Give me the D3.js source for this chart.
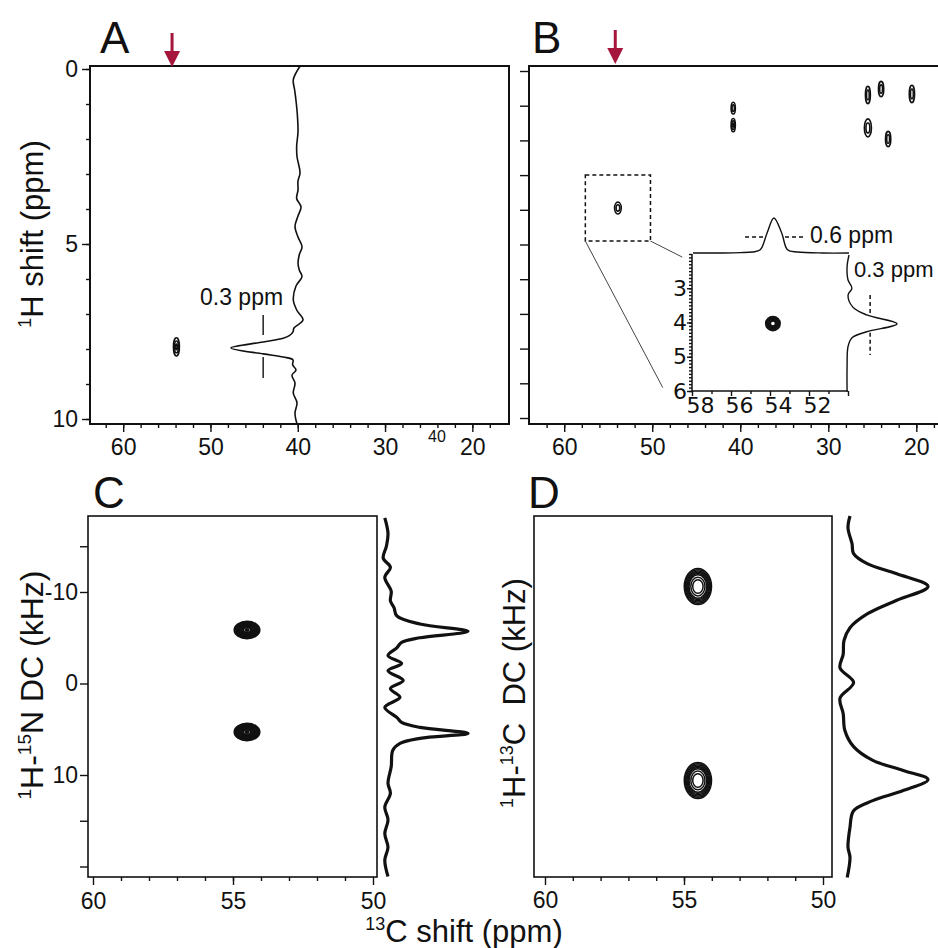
<!DOCTYPE html>
<html>
<head>
<meta charset="utf-8">
<script src="https://cdn.jsdelivr.net/npm/d3@7"></script>
<style>
  body { margin: 0; background: #fff; }
  svg { display: block; }
  text { font-family: "Liberation Sans", Arial, Helvetica, sans-serif; fill: #111; }
</style>
</head>
<body>
<div id="fig"></div>
<script>
// ---------- data ----------
// panels A/B : 13C shift (ppm) vs 1H shift (ppm)
var ticks13C_AB = [60, 50, 40, 30, 20];
var ticks1H_A = [0, 5, 10];
var arrowA = 54.4;
var arrowB = 54.2;
// peaks: c = 13C ppm, h = 1H ppm, rc/rh = half widths (ppm)
var peaksA = [{c: 53.9, h: 7.94, rc: 0.34, rh: 0.26}];
var peaksB = [
  {c: 40.8, h: 1.07, rc: 0.24, rh: 0.17},
  {c: 40.8, h: 1.56, rc: 0.24, rh: 0.19},
  {c: 25.5, h: 0.69, rc: 0.28, rh: 0.25},
  {c: 24.0, h: 0.52, rc: 0.3, rh: 0.22},
  {c: 20.5, h: 0.66, rc: 0.3, rh: 0.25},
  {c: 25.5, h: 1.64, rc: 0.4, rh: 0.26},
  {c: 23.2, h: 1.96, rc: 0.3, rh: 0.22},
  {c: 53.9, h: 3.95, rc: 0.38, rh: 0.17}
];
// 1H projection in A: [1H ppm, intensity]
var traceA = [[-0.08,-0.03],[0.3,0.07],[0.6,0.05],[0.9,0.03],[1.3,0.01],[1.8,0],[2.2,0.02],[2.5,0.015],
  [2.97,-0.03],[3.2,0],[3.46,0],[3.7,0.02],[3.94,-0.045],[4.2,0],[4.5,0.045],[4.8,0],[5.08,-0.06],
  [5.3,-0.02],[5.55,0],[5.75,-0.02],[5.93,-0.06],[6.2,0.03],[6.6,0.07],[6.9,0.015],[7.17,-0.075],
  [7.4,0.06],[7.51,0.075],[7.62,0.13],[7.69,0.22],[7.8,0.52],[7.97,1.0],[8.14,0.52],[8.23,0.22],
  [8.31,0.075],[8.45,0.08],[8.6,0.03],[8.75,0.09],[8.97,0.045],[9.26,0.07],[9.54,0.015],[9.83,0.045],[10.14,0.015]];
var widthA = {h1: 7.03, h2: 7.6, h3: 8.23, h4: 8.83, i: 0.52};

// inset of B (zoom on the Ca peak)
var insetBox = {c1: 57.6, c2: 50.2, h1: 3.0, h2: 4.9};
var ticks13C_inset = [58, 56, 54, 52, 50];
var labels13C_inset = [58, 56, 54, 52];
var ticks1H_inset = [3, 4, 5, 6];
var peaksInset = [{c: 53.85, h: 4.03, rc: 0.36, rh: 0.2}];
var traceInsetTop = [[57.95,0],[56.4,0],[55.5,0.01],[54.9,0.03],[54.5,0.09],[54.15,0.57],[53.8,1.0],
  [53.4,0.57],[53.1,0.09],[52.6,0.03],[51.3,0],[49.95,0]];
var traceInsetRight = [[2.03,0],[2.37,-0.04],[2.76,-0.02],[3.0,0.06],[3.2,-0.02],[3.55,0.08],[3.78,0.37],
  [4.04,1.0],[4.27,0.37],[4.45,0.06],[4.7,-0.02],[5.3,-0.04],[6.02,-0.04]];
var width06 = [[55.28, 54.26], [53.23, 52.2]];
var width06i = 0.46;
var width03 = [[3.2, 3.72], [4.3, 4.95]];
var width03i = 0.44;

// panels C/D : 13C shift (ppm) vs dipolar coupling (kHz)
var ticks13C_CD = [60, 55, 50];
var ticksDC_C = [-10, 0, 10];
var ticksDC_Cminor = [-15, 15, 20];
var peaksC = [{c: 54.5, h: -5.85, rc: 0.45, rh: 0.93}, {c: 54.5, h: 5.3, rc: 0.45, rh: 0.93}];
var peaksD = [{c: 54.5, h: -10.6, rc: 0.49, rh: 1.97}, {c: 54.5, h: 10.6, rc: 0.49, rh: 1.97}];
var traceC = [[-18.1,-0.04],[-16.4,0],[-15.0,-0.02],[-13.7,-0.06],[-12.7,0.03],[-11.6,-0.04],[-10.1,0.04],
  [-9.05,0.03],[-8.3,0.075],[-7.4,0.11],[-6.5,0.4],[-5.7,1.0],[-5.0,0.4],[-4.5,0.17],[-3.9,0.11],
  [-3.05,0],[-2.2,0.17],[-1.4,0],[-0.33,0.19],[0.55,0.03],[1.5,0.15],[2.6,-0.04],[3.7,0.11],[4.25,0.17],
  [4.8,0.4],[5.45,1.0],[6.0,0.4],[6.55,0.15],[7.3,0.06],[9.1,0.04],[10.9,0],[12.0,0.03],[13.5,-0.04],
  [14.9,0],[16.4,-0.04],[17.9,0],[19.3,-0.04],[21.1,0]];
var traceD = [[-18.3,0.025],[-17.0,0],[-15.3,0.05],[-14.2,0.07],[-13.1,0.24],[-12.0,0.61],[-10.6,1.0],
  [-9.1,0.61],[-7.6,0.24],[-6.1,0.025],[-4.7,-0.05],[-3.2,-0.06],[-1.7,-0.1],[-0.1,0.07],[1.6,-0.1],
  [3.3,-0.06],[5.1,-0.04],[6.9,0.07],[8.4,0.31],[9.5,0.69],[10.5,1.0],[11.7,0.69],[12.8,0.31],
  [13.9,0.07],[15.7,0.025],[17.9,0],[19.0,0.025],[21.2,-0.01]];

// contour levels (fraction of the peak half width)
var levelsSmall = [1, 0.55];
var levelsSmallFilled = [1, 0.65, 0.3];
var levelsC = [1, 0.9, 0.8, 0.7, 0.6, 0.5, 0.4, 0.3, 0.12];
var levelsD = [1, 0.93, 0.86, 0.79, 0.72, 0.65, 0.52, 0.38];
var levelsInset = [1, 0.8, 0.6, 0.4];

// ---------- layout ----------
var W = 938, H = 948;
var ink = "#111";
var red = "#a5163c";
var tickFont = 23, titleFont = 31;
var svg = d3.select("#fig").append("svg").attr("width", W).attr("height", H);

var xA = d3.scaleLinear().domain([63.8, 15.8]).range([90, 509]);
var yA = d3.scaleLinear().domain([0, 10]).range([69, 419]);
var iA = d3.scaleLinear().domain([0, 1]).range([298, 231]);

var xB = d3.scaleLinear().domain([64, 16.4]).range([529, 948]);
var yB = d3.scaleLinear().domain([0, 10]).range([71, 418]);

var xI = d3.scaleLinear().domain([58, 50]).range([692, 848]);
var yI = d3.scaleLinear().domain([2, 6]).range([254, 391]);
var iTop = d3.scaleLinear().domain([0, 1]).range([253, 218]);
var iRight = d3.scaleLinear().domain([0, 1]).range([849, 897]);

var xC = d3.scaleLinear().domain([60, 50]).range([93, 373]);
var yC = d3.scaleLinear().domain([-10, 10]).range([592, 775]);
var iC = d3.scaleLinear().domain([0, 1]).range([388, 468]);

var xD = d3.scaleLinear().domain([60, 50]).range([545, 823]);
var yD = d3.scaleLinear().domain([-10, 10]).range([592, 775]);
var iD = d3.scaleLinear().domain([0, 1]).range([848, 928]);

// ---------- helpers ----------
function styleAxis(g, size, family) {
  g.select(".domain").remove();
  g.selectAll(".tick line").attr("stroke", ink).attr("stroke-width", 1.4);
  g.selectAll(".tick text").attr("fill", ink)
    .attr("font-size", size || tickFont)
    .style("font-family", family || "'Liberation Sans', Arial, sans-serif");
  return g;
}
function fmt(d) { return String(d); }

function contours(g, peaks, xs, ys, levels, sw) {
  peaks.forEach(function(p) {
    var cx = xs(p.c), cy = ys(p.h);
    var rx = Math.abs(xs(p.c + p.rc) - cx), ry = Math.abs(ys(p.h + p.rh) - cy);
    g.selectAll(null).data(levels).enter().append("ellipse")
      .attr("cx", cx).attr("cy", cy)
      .attr("rx", function(l) { return rx * l; })
      .attr("ry", function(l) { return ry * l; })
      .attr("fill", "none").attr("stroke", ink).attr("stroke-width", sw);
  });
}
function traceV(g, data, ys, is, sw) {
  var line = d3.line().x(function(d) { return is(d[1]); }).y(function(d) { return ys(d[0]); })
    .curve(d3.curveCatmullRom.alpha(0.5));
  g.append("path").datum(data).attr("d", line)
    .attr("fill", "none").attr("stroke", ink).attr("stroke-width", sw).attr("stroke-linejoin", "round");
}
function traceH(g, data, xs, is, sw) {
  var line = d3.line().x(function(d) { return xs(d[0]); }).y(function(d) { return is(d[1]); })
    .curve(d3.curveCatmullRom.alpha(0.5));
  g.append("path").datum(data).attr("d", line)
    .attr("fill", "none").attr("stroke", ink).attr("stroke-width", sw).attr("stroke-linejoin", "round");
}
function arrow(x, y0, y1) {
  svg.append("line").attr("x1", x).attr("x2", x).attr("y1", y0).attr("y2", y1 - 10)
    .attr("stroke", red).attr("stroke-width", 3);
  svg.append("path").attr("d", "M" + (x - 8) + "," + (y1 - 16) + "L" + (x + 8) + "," + (y1 - 16) + "L" + x + "," + y1 + "Z")
    .attr("fill", red);
}
function panelLetter(t, x, y) {
  svg.append("text").attr("x", x).attr("y", y).attr("font-size", 44).text(t);
}

// ---------- panel A ----------
var gA = svg.append("g");
gA.append("rect").attr("x", 90).attr("y", 66).attr("width", 419).attr("height", 358)
  .attr("fill", "none").attr("stroke", ink).attr("stroke-width", 2);
styleAxis(gA.append("g").attr("transform", "translate(0,424)")
  .call(d3.axisBottom(xA).tickValues(d3.range(18, 63, 2)).tickSize(4).tickFormat("")));
styleAxis(gA.append("g").attr("transform", "translate(0,424)")
  .call(d3.axisBottom(xA).tickValues(ticks13C_AB).tickSize(8).tickPadding(7).tickFormat(fmt)));
styleAxis(gA.append("g").attr("transform", "translate(90,0)")
  .call(d3.axisLeft(yA).tickValues(d3.range(0, 11)).tickSize(4).tickFormat("")));
styleAxis(gA.append("g").attr("transform", "translate(90,0)")
  .call(d3.axisLeft(yA).tickValues(ticks1H_A).tickSize(8).tickPadding(4).tickFormat(fmt)));
contours(gA, peaksA, xA, yA, levelsSmallFilled, 1.6);
traceV(gA, traceA, yA, iA, 1.6);
gA.append("line").attr("x1", iA(widthA.i)).attr("x2", iA(widthA.i))
  .attr("y1", yA(widthA.h1)).attr("y2", yA(widthA.h2)).attr("stroke", ink).attr("stroke-width", 1.4);
gA.append("line").attr("x1", iA(widthA.i)).attr("x2", iA(widthA.i))
  .attr("y1", yA(widthA.h3)).attr("y2", yA(widthA.h4)).attr("stroke", ink).attr("stroke-width", 1.4);
gA.append("text").attr("x", 200).attr("y", 305).attr("font-size", 23).text("0.3 ppm");
gA.append("text").attr("x", 437).attr("y", 442).attr("font-size", 16).attr("text-anchor", "middle").text("40");
gA.append("text").attr("transform", "translate(43,234) rotate(-90)").attr("text-anchor", "middle")
  .attr("font-size", titleFont)
  .call(function(t) {
    t.append("tspan").attr("font-size", 18).attr("dy", -12).text("1");
    t.append("tspan").attr("dy", 12).text("H shift (ppm)");
  });
arrow(xA(arrowA), 33, 67);
panelLetter("A", 100, 53);

// ---------- panel B ----------
var gB = svg.append("g");
gB.append("rect").attr("x", 529).attr("y", 66).attr("width", 440).attr("height", 358)
  .attr("fill", "none").attr("stroke", ink).attr("stroke-width", 2);
styleAxis(gB.append("g").attr("transform", "translate(0,424)")
  .call(d3.axisBottom(xB).tickValues(d3.range(18, 63, 2)).tickSize(4).tickFormat("")));
styleAxis(gB.append("g").attr("transform", "translate(0,424)")
  .call(d3.axisBottom(xB).tickValues(ticks13C_AB).tickSize(8).tickPadding(7).tickFormat(fmt)));
styleAxis(gB.append("g").attr("transform", "translate(529,0)")
  .call(d3.axisLeft(yB).tickValues(d3.range(0, 11)).tickSize(9).tickFormat("")));
contours(gB, peaksB.filter(function(p, i) { return i !== 1; }), xB, yB, levelsSmall, 1.6);
contours(gB, [peaksB[1]], xB, yB, levelsSmallFilled, 1.6);

// dashed zoom box and connectors
gB.append("rect").attr("x", xB(insetBox.c1)).attr("y", yB(insetBox.h1))
  .attr("width", xB(insetBox.c2) - xB(insetBox.c1)).attr("height", yB(insetBox.h2) - yB(insetBox.h1))
  .attr("fill", "none").attr("stroke", ink).attr("stroke-width", 1.5).attr("stroke-dasharray", "4,3");
gB.append("line").attr("x1", xB(insetBox.c2)).attr("y1", yB(insetBox.h2))
  .attr("x2", xI(58.5)).attr("y2", yI(2.09)).attr("stroke", "#444").attr("stroke-width", 1);
gB.append("line").attr("x1", xB(insetBox.c1)).attr("y1", yB(insetBox.h2))
  .attr("x2", xI(59.5)).attr("y2", yI(5.9)).attr("stroke", "#444").attr("stroke-width", 1);

// inset
var gI = svg.append("g");
gI.append("rect").attr("x", 692).attr("y", 254).attr("width", 156).attr("height", 137).attr("fill", "#fff");
gI.append("line").attr("x1", 692).attr("x2", 692).attr("y1", 254).attr("y2", 391).attr("stroke", ink).attr("stroke-width", 1.5);
gI.append("line").attr("x1", 692).attr("x2", 848).attr("y1", 391).attr("y2", 391).attr("stroke", ink).attr("stroke-width", 1.5);
styleAxis(gI.append("g").attr("transform", "translate(692,0)")
  .call(d3.axisLeft(yI).tickValues(d3.range(20, 61).map(function(d) { return d / 10; })).tickSize(3).tickFormat("")));
styleAxis(gI.append("g").attr("transform", "translate(692,0)")
  .call(d3.axisLeft(yI).tickValues(ticks1H_inset).tickSize(5).tickPadding(0).tickFormat(fmt)), 22, "'DejaVu Sans', Verdana, sans-serif");
styleAxis(gI.append("g").attr("transform", "translate(0,391)")
  .call(d3.axisBottom(xI).tickValues([57, 55, 53, 51]).tickSize(3).tickFormat("")));
var gIx = styleAxis(gI.append("g").attr("transform", "translate(0,391)")
  .call(d3.axisBottom(xI).tickValues(ticks13C_inset).tickSize(5).tickPadding(1)
    .tickFormat(function(d) { return labels13C_inset.indexOf(d) >= 0 ? String(d) : ""; })), 22, "'DejaVu Sans', Verdana, sans-serif");
gIx.selectAll(".tick text").attr("text-anchor", "start").attr("dx", -6);
contours(gI, peaksInset, xI, yI, levelsInset, 2);
traceH(gI, traceInsetTop, xI, iTop, 1.4);
traceV(gI, traceInsetRight, yI, iRight, 1.4);
width06.forEach(function(s) {
  gI.append("line").attr("x1", xI(s[0])).attr("x2", xI(s[1])).attr("y1", iTop(width06i)).attr("y2", iTop(width06i))
    .attr("stroke", ink).attr("stroke-width", 1.5).attr("stroke-dasharray", "4,3");
});
width03.forEach(function(s) {
  gI.append("line").attr("x1", iRight(width03i)).attr("x2", iRight(width03i)).attr("y1", yI(s[0])).attr("y2", yI(s[1]))
    .attr("stroke", ink).attr("stroke-width", 1.5).attr("stroke-dasharray", "4,3");
});
gI.append("text").attr("x", 810).attr("y", 243).attr("font-size", 23).text("0.6 ppm");
gI.append("text").attr("x", 854).attr("y", 277).attr("font-size", 22).text("0.3 ppm");
arrow(xB(arrowB), 30, 64);
panelLetter("B", 532, 53);

// ---------- panel C ----------
var gC = svg.append("g");
gC.append("rect").attr("x", 88).attr("y", 516).attr("width", 289).attr("height", 361)
  .attr("fill", "none").attr("stroke", ink).attr("stroke-width", 1.6);
styleAxis(gC.append("g").attr("transform", "translate(0,877)")
  .call(d3.axisBottom(xC).tickValues(d3.range(51, 60)).tickSize(4).tickFormat("")));
styleAxis(gC.append("g").attr("transform", "translate(0,877)")
  .call(d3.axisBottom(xC).tickValues(ticks13C_CD).tickSize(8).tickPadding(8).tickFormat(fmt)));
styleAxis(gC.append("g").attr("transform", "translate(88,0)")
  .call(d3.axisLeft(yC).tickValues(ticksDC_Cminor).tickSize(8).tickFormat("")));
styleAxis(gC.append("g").attr("transform", "translate(88,0)")
  .call(d3.axisLeft(yC).tickValues(ticksDC_C).tickSize(8).tickPadding(2).tickFormat(fmt)));
contours(gC, peaksC, xC, yC, levelsC, 1.9);
traceV(gC, traceC, yC, iC, 3.2);
gC.append("text").attr("transform", "translate(43,685) rotate(-90)").attr("text-anchor", "middle")
  .attr("font-size", 32)
  .call(function(t) {
    t.append("tspan").attr("font-size", 19).attr("dy", -12).text("1");
    t.append("tspan").attr("dy", 12).text("H-");
    t.append("tspan").attr("font-size", 19).attr("dy", -12).text("15");
    t.append("tspan").attr("dy", 12).text("N DC (kHz)");
  });
panelLetter("C", 93, 508);

// ---------- panel D ----------
var gD = svg.append("g");
gD.append("rect").attr("x", 534).attr("y", 516).attr("width", 298).attr("height", 361)
  .attr("fill", "none").attr("stroke", ink).attr("stroke-width", 1.6);
styleAxis(gD.append("g").attr("transform", "translate(0,877)")
  .call(d3.axisBottom(xD).tickValues(d3.range(51, 60)).tickSize(4).tickFormat("")));
styleAxis(gD.append("g").attr("transform", "translate(0,877)")
  .call(d3.axisBottom(xD).tickValues(ticks13C_CD).tickSize(8).tickPadding(7).tickFormat(fmt)));
contours(gD, peaksD, xD, yD, levelsD, 1.5);
traceV(gD, traceD, yD, iD, 3.2);
gD.append("text").attr("transform", "translate(525,693) rotate(-90)").attr("text-anchor", "middle")
  .attr("font-size", titleFont).style("white-space", "pre")
  .call(function(t) {
    t.append("tspan").attr("font-size", 18).attr("dy", -12).text("1");
    t.append("tspan").attr("dy", 12).text("H-");
    t.append("tspan").attr("font-size", 18).attr("dy", -12).text("13");
    t.append("tspan").attr("dy", 12).text("C  DC (kHz)");
  });
panelLetter("D", 528, 508);

// shared x title
svg.append("text").attr("x", 464).attr("y", 942).attr("text-anchor", "middle").attr("font-size", titleFont)
  .call(function(t) {
    t.append("tspan").attr("font-size", 18).attr("dy", -12).text("13");
    t.append("tspan").attr("dy", 12).text("C shift (ppm)");
  });
</script>
</body>
</html>
